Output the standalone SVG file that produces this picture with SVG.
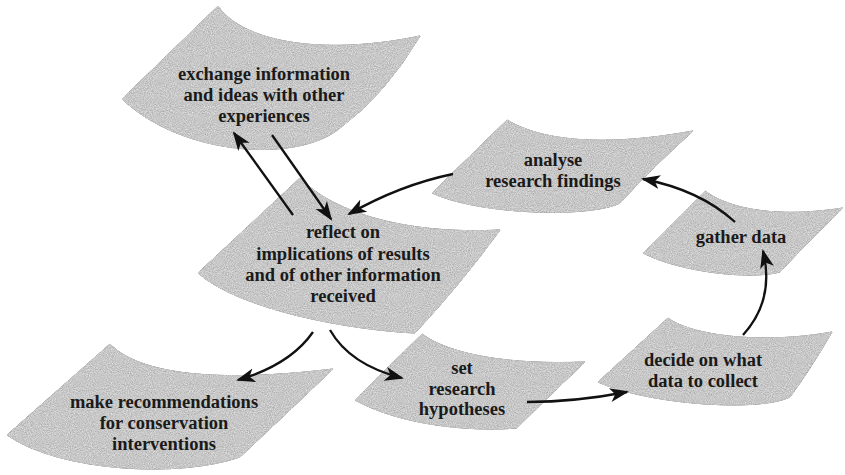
<svg xmlns="http://www.w3.org/2000/svg" width="845" height="475" viewBox="0 0 845 475">
  <style>
    .sheet { fill: #c4c4c4; stroke: #5e5e5e; stroke-width: 1; filter: url(#paper); }
    .label { font-family: "Liberation Serif", "Times New Roman", serif; font-weight: bold; font-size: 18.5px; fill: #1a1a1a; text-anchor: middle; }
    .link { fill: none; stroke: #111; stroke-width: 2.3; marker-end: url(#head); }
  </style>
  <defs>
    <!-- grainy paper texture for the sheets; the thin outline stays visible beneath it -->
    <filter id="paper" x="-5%" y="-5%" width="110%" height="110%" color-interpolation-filters="sRGB">
      <feTurbulence type="fractalNoise" baseFrequency="0.95" numOctaves="2" seed="7" result="noise"/>
      <feColorMatrix in="noise" type="matrix" values="0.32 0 0 0 0.62  0.32 0 0 0 0.62  0.32 0 0 0 0.62  0 0 0 0 1" result="grain"/>
      <feComposite in="grain" in2="SourceGraphic" operator="in" result="tex"/>
      <feMerge>
        <feMergeNode in="SourceGraphic"/>
        <feMergeNode in="tex"/>
      </feMerge>
    </filter>
    <marker id="head" markerUnits="userSpaceOnUse" markerWidth="20" markerHeight="16" refX="17" refY="7" orient="auto" viewBox="0 0 20 14">
      <path d="M0,0 L19,7 L0,14 L5,7 Z" fill="#111"/>
    </marker>
  </defs>

  <g id="exchange">
    <path class="sheet" d="M218,6 C245,45 330,55 420,36 Q385,95 340,128 C300,162 185,158 122,99 Z"/>
    <text class="label" x="264" y="80">exchange information</text>
    <text class="label" x="264" y="101">and ideas with other</text>
    <text class="label" x="264" y="122">experiences</text>
  </g>

  <g id="reflect">
    <path class="sheet" d="M300,178 C330,210 400,235 500,230 Q460,285 415,333 C350,330 240,310 198,273 Z"/>
    <text class="label" x="343" y="238">reflect on</text>
    <text class="label" x="343" y="260">implications of results</text>
    <text class="label" x="343" y="281">and of other information</text>
    <text class="label" x="343" y="302">received</text>
  </g>

  <g id="analyse">
    <path class="sheet" d="M507,120 C540,140 600,148 693,131 Q650,170 620,203 C590,218 480,215 432,193 Z"/>
    <text class="label" x="553" y="166">analyse</text>
    <text class="label" x="553" y="187">research findings</text>
  </g>

  <g id="gather">
    <path class="sheet" d="M705,191 C730,210 780,218 843,208 Q805,245 780,272 C750,280 680,272 643,253 Z"/>
    <text class="label" x="741" y="243">gather data</text>
  </g>

  <g id="recommend">
    <path class="sheet" d="M110,344 C135,370 200,385 333,369 Q285,415 240,457 C180,478 60,472 7,435 Z"/>
    <text class="label" x="164" y="408">make recommendations</text>
    <text class="label" x="164" y="429">for conservation</text>
    <text class="label" x="164" y="450">interventions</text>
  </g>

  <g id="hypotheses">
    <path class="sheet" d="M422,334 C450,355 510,365 585,362 Q545,400 517,428 C470,432 400,425 355,400 Z"/>
    <text class="label" x="462" y="374">set</text>
    <text class="label" x="462" y="395">research</text>
    <text class="label" x="462" y="415">hypotheses</text>
  </g>

  <g id="decide">
    <path class="sheet" d="M668,318 C690,335 760,345 832,332 Q810,370 790,397 C760,412 650,405 598,382 Z"/>
    <text class="label" x="703" y="366">decide on what</text>
    <text class="label" x="703" y="387">data to collect</text>
  </g>

  <g id="connectors">
    <path class="link" d="M293,215 L234,133"/>
    <path class="link" d="M272,135 L331,219"/>
    <path class="link" d="M453,174 Q400,185 349,214"/>
    <path class="link" d="M735,222 Q700,190 643,179"/>
    <path class="link" d="M743,335 Q775,300 763,251"/>
    <path class="link" d="M527,402 Q575,402 627,392"/>
    <path class="link" d="M330,330 Q350,365 402,378"/>
    <path class="link" d="M313,332 Q290,365 238,380"/>
  </g>
</svg>
